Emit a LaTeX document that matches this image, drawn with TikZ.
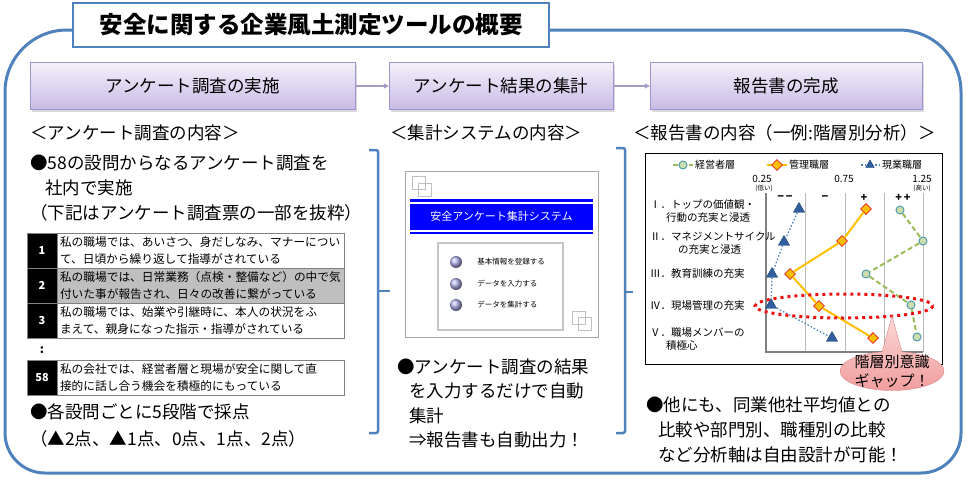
\documentclass[tikz,border=0pt]{standalone}
\usepackage{fontspec}
\setmainfont{Noto Sans CJK JP}
\usetikzlibrary{positioning, arrows.meta, shapes.geometric, shapes.callouts, shadows}

\definecolor{frameblue}{HTML}{4F81BD}
\definecolor{headtop}{HTML}{F4F1FB}
\definecolor{headbottom}{HTML}{C8BBE5}
\definecolor{headline}{HTML}{A294CF}
\definecolor{flowgray}{HTML}{A69AC6}
\definecolor{rowgray}{HTML}{BFBFBF}
\definecolor{sysblue}{HTML}{0000FF}
\definecolor{menuviolet}{HTML}{B4B4EE}
\definecolor{execgreen}{HTML}{9BBB59}
\definecolor{execring}{HTML}{4F9BB0}
\definecolor{mgrorange}{HTML}{FFC000}
\definecolor{mgrred}{HTML}{E02020}
\definecolor{staffblue}{HTML}{4F81BD}
\definecolor{stafffill}{HTML}{2F5F9F}
\definecolor{gapred}{HTML}{F01010}
\definecolor{bubbletop}{HTML}{FBD8D8}
\definecolor{bubblebottom}{HTML}{F09C9C}
\definecolor{bubbleline}{HTML}{D98585}

\begin{document}
\begin{tikzpicture}[x=1pt, y=-1pt]
	\tikzstyle{frameline}=[draw=frameblue, line width=3pt]
	\tikzstyle{titlebox}=[draw=frameblue, line width=2.5pt, fill=white, minimum width=476pt, minimum height=44pt, font=\bfseries\fontsize{23.5}{26}\selectfont]
	\tikzstyle{headbox}=[draw=headline, top color=headtop, bottom color=headbottom, minimum height=47pt, drop shadow={shadow xshift=2pt, shadow yshift=-2pt, opacity=0.3}, font=\fontsize{17.5}{20}\selectfont]
	\tikzstyle{flowarrow}=[draw=flowgray, line width=1.5pt, -{Triangle[length=5pt, width=5pt]}]
	\tikzstyle{subhead}=[anchor=west, inner sep=0pt, font=\fontsize{17.5}{20}\selectfont]
	\tikzstyle{bodytext}=[anchor=west, inner sep=0pt, align=left, font=\fontsize{17.5}{25}\selectfont]
	\tikzstyle{numcell}=[draw=gray, fill=black, text=white, minimum width=30pt, minimum height=35pt, font=\bfseries\fontsize{11}{13}\selectfont]
	\tikzstyle{qcell}=[draw=gray, minimum width=287pt, minimum height=35pt, inner sep=3pt, text width=281pt, align=left, font=\fontsize{11.7}{17}\selectfont]
	\tikzstyle{bracket}=[draw=frameblue, line width=2.5pt, rounded corners=2pt]
	\tikzstyle{deco}=[draw=gray!50]
	\tikzstyle{sysband}=[fill=sysblue, text=white, minimum width=183pt, minimum height=26pt, font=\fontsize{11}{13}\selectfont]
	\tikzstyle{menudot}=[circle, ball color=menuviolet, minimum size=12pt, inner sep=0pt]
	\tikzstyle{menutext}=[inner sep=0pt, font=\fontsize{7.5}{9}\selectfont]
	\tikzstyle{gridline}=[draw=gray!55, line width=0.8pt]
	\tikzstyle{axisline}=[draw=gray, line width=1.6pt]
	\tikzstyle{catlabel}=[anchor=west, inner sep=0pt, align=left, font=\fontsize{10.5}{13}\selectfont]
	\tikzstyle{ticklabel}=[inner sep=0pt, font=\fontsize{10}{12}\selectfont]
	\tikzstyle{signlabel}=[inner sep=0pt, font=\bfseries\fontsize{11}{12}\selectfont]
	\tikzstyle{tinylabel}=[inner sep=0pt, font=\fontsize{6.5}{8}\selectfont]
	\tikzstyle{keytext}=[anchor=west, inner sep=1pt, font=\fontsize{10}{12}\selectfont]
	\tikzstyle{execline}=[draw=execgreen, line width=2pt, dash pattern=on 5pt off 3pt]
	\tikzstyle{mgrline}=[draw=mgrorange, line width=2pt]
	\tikzstyle{staffline}=[draw=staffblue, line width=1.3pt, dash pattern=on 1.5pt off 2pt]
	\tikzstyle{execmark}=[circle, draw=execring, fill=execgreen!50, line width=1pt, minimum size=8pt, inner sep=0pt]
	\tikzstyle{mgrmark}=[diamond, draw=mgrred, fill=mgrorange, line width=0.8pt, minimum size=11pt, inner sep=0pt]
	\tikzstyle{staffmark}=[regular polygon, regular polygon sides=3, draw=stafffill!70!black, fill=stafffill, minimum size=13pt, inner sep=0pt]
	\tikzstyle{gapring}=[draw=gapred, line width=3pt, dash pattern=on 3pt off 4pt]
	\tikzstyle{gapbubble}=[ellipse callout, draw=bubbleline, top color=bubbletop, bottom color=bubblebottom, minimum width=104pt, minimum height=39pt, callout pointer arc=22]
	\useasboundingbox (0,0) rectangle (968,479);

	% outer frame and title
	\draw[frameline] (5,260) [rounded corners=62pt] -- (5,30) -- (961,30) -- (961,250) [rounded corners=40pt] -- (961,473) -- (5,473) -- (5,260);
	\node[titlebox] (title) at (311,25) {安全に関する企業風土測定ツールの概要};

	% three steps
	\node[headbox, minimum width=325pt] (survey) at (192.5,86) {アンケート調査の実施};
	\node[headbox, minimum width=224pt] (tally) at (501,86) {アンケート結果の集計};
	\node[headbox, minimum width=272pt] (report) at (786,86) {報告書の完成};
	\draw[flowarrow] (survey) -- (tally);
	\draw[flowarrow] (tally) -- (report);

	% left column
	\node[subhead] (surveyhead) at (30,133) {＜アンケート調査の内容＞};
	\node[bodytext] (surveytext) at (30,188) {●58の設問からなるアンケート調査を\\\hspace*{15pt}社内で実施\\（下記はアンケート調査票の一部を抜粋）};
	\node[numcell] (n1) at (42,250.5) {1};
	\node[qcell] (q1) at (200.5,250.5) {私の職場では、あいさつ、身だしなみ、マナーについ\\て、日頃から繰り返して指導がされている};
	\node[numcell] (n2) at (42,285.5) {2};
	\node[qcell, fill=rowgray] (q2) at (200.5,285.5) {私の職場では、日常業務（点検・整備など）の中で気\\付いた事が報告され、日々の改善に繋がっている};
	\node[numcell] (n3) at (42,320.5) {3};
	\node[qcell] (q3) at (200.5,320.5) {私の職場では、始業や引継時に、本人の状況をふ\\まえて、親身になった指示・指導がされている};
	\node[font=\bfseries\fontsize{12}{14}\selectfont] (skip) at (42,350) {:};
	\node[numcell] (n58) at (42,377.5) {58};
	\node[qcell] (q58) at (200.5,377.5) {私の会社では、経営者層と現場が安全に関して直\\接的に話し合う機会を積極的にもっている};
	\node[bodytext, font=\fontsize{17.5}{27}\selectfont] (scoring) at (30,425) {●各設問ごとに5段階で採点\\（▲2点、▲1点、0点、1点、2点）};
	\draw[bracket] (369,150) -- (378,150) -- (378,433) -- (369,433);
	\draw[bracket] (378,291) -- (390,291);

	% middle column
	\node[subhead] (systemhead) at (390,133) {＜集計システムの内容＞};
	\node[draw=gray!70, minimum width=193pt, minimum height=166pt] (screen) at (501.5,254.5) {};
	\draw[deco] (412,176) rectangle (425,189);
	\draw[deco] (418,183) rectangle (431,196);
	\draw[deco] (572,311) rectangle (585,324);
	\draw[deco] (578,317) rectangle (591,330);
	\fill[sysblue] (410,199) rectangle (593,201.5);
	\node[sysband] (systitle) at (501.5,216.5) {安全アンケート集計システム};
	\fill[sysblue] (410,231.5) rectangle (593,234);
	\node[draw=gray!45, line width=1.5pt, minimum width=125pt, minimum height=87pt] (menu) at (500.5,286.5) {};
	\foreach \n/\y/\txt in {1/262/基本情報を登録する, 2/284/データを入力する, 3/305/データを集計する}{
		\node[menudot] (dot\n) at (456,\y) {};
		\node[menutext, right=15pt of dot\n] (item\n) {\txt};
	}
	\node[bodytext, font=\fontsize{17.5}{24.5}\selectfont] (systemtext) at (397,403.5) {●アンケート調査の結果\\\hspace*{12pt}を入力するだけで自動\\\hspace*{12pt}集計\\\hspace*{12pt}⇒報告書も自動出力！};
	\draw[bracket] (616,148) -- (625,148) -- (625,433) -- (616,433);
	\draw[bracket] (625,292) -- (633,292);

	% right column
	\node[subhead] (reporthead) at (633,133) {＜報告書の内容（一例:階層別分析）＞};
	\node[draw, minimum width=297pt, minimum height=211pt] (chart) at (793.5,258.5) {};
	\draw[execline] (673,165) -- (693,165);
	\node[execmark] (execkey) at (683,165) {};
	\node[keytext] at (694,165) {経営者層};
	\draw[mgrline] (767,165) -- (787,165);
	\node[mgrmark] (mgrkey) at (777,165) {};
	\node[keytext] at (788,165) {管理職層};
	\draw[staffline] (861,165) -- (880,165);
	\node[staffmark, minimum size=10pt] (staffkey) at (870,165) {};
	\node[keytext] at (881,165) {現業職層};
	\node[ticklabel] (low) at (762,179) {0.25};
	\node[tinylabel] at (764,188) {(低い)};
	\node[ticklabel] (mid) at (844,179) {0.75};
	\node[ticklabel] (high) at (922,179) {1.25};
	\node[tinylabel] at (922,188) {(高い)};
	\node[signlabel] at (785,198) {−\,−};
	\node[signlabel] at (825,198) {−};
	\node[signlabel] at (864,198) {+};
	\node[signlabel] at (903,198) {+\,+};
	\foreach \x in {805,845,884,923}
		\draw[gridline] (\x,193) -- (\x,352);
	\draw[axisline] (766,193) -- (766,352) -- (923,352);
	\node[catlabel] (cat1) at (650,211.5) {Ⅰ．トップの価値観・\\\hspace*{16pt}行動の充実と浸透};
	\node[catlabel] (cat2) at (650,243.5) {Ⅱ．マネジメントサイクル\\\hspace*{28pt}の充実と浸透};
	\node[catlabel] (cat3) at (650,274) {Ⅲ．教育訓練の充実};
	\node[catlabel] (cat4) at (650,306) {Ⅳ．現場管理の充実};
	\node[catlabel] (cat5) at (650,339) {Ⅴ．職場メンバーの\\\hspace*{16pt}積極心};
	\foreach \n/\x/\y in {1/900/210, 2/923/241, 3/866/274, 4/911/305, 5/917/337}
		\node[execmark] (g\n) at (\x,\y) {};
	\foreach \n/\x/\y in {1/866/209, 2/842/241, 3/790/274, 4/819/306, 5/873/338}
		\node[mgrmark] (o\n) at (\x,\y) {};
	\foreach \n/\x/\y in {1/799/209, 2/784/242, 3/772/274, 4/771/305, 5/832/338}
		\node[staffmark] (b\n) at (\x,\y) {};
	\draw[execline] (g1) -- (g2) -- (g3) -- (g4) -- (g5);
	\draw[mgrline] (o1) -- (o2) -- (o3) -- (o4) -- (o5);
	\draw[staffline] (b1) -- (b2) -- (b3) -- (b4) -- (b5);
	\draw[gapring] (844,306) ellipse [x radius=89, y radius=12];
	\node[gapbubble, callout absolute pointer={(892,316)}] (gap) at (892,371) {};
	\node[align=center, inner sep=0pt, font=\fontsize{15}{19}\selectfont] (gaptext) at (gap.center) {階層別意識\\ギャップ！};
	\node[bodytext] (reporttext) at (646,430) {●他にも、同業他社平均値との\\\hspace*{12pt}比較や部門別、職種別の比較\\\hspace*{12pt}など分析軸は自由設計が可能！};
\end{tikzpicture}
\end{document}
